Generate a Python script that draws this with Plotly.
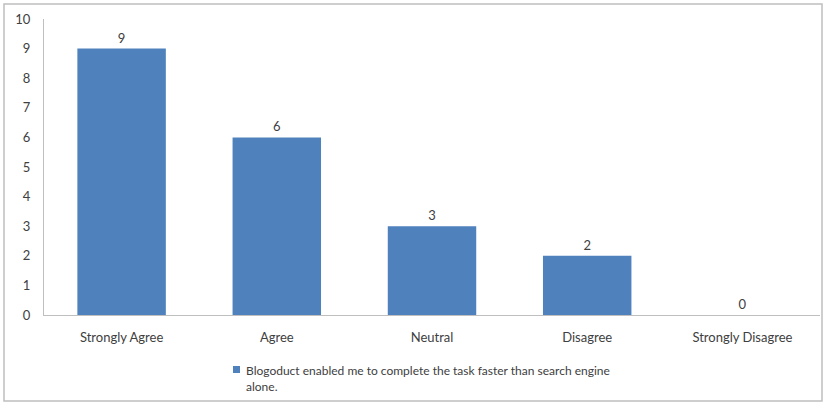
import plotly.graph_objects as go

# Survey responses
categories = ["Strongly Agree", "Agree", "Neutral", "Disagree", "Strongly Disagree"]
counts = [9, 6, 3, 2, 0]
series_name = "Blogoduct enabled me to complete the task faster than search engine<br>alone."
y_ticks = [0, 1, 2, 3, 4, 5, 6, 7, 8, 9, 10]
bar_color = "#4f81bd"

W, H = 827, 404
ml, mr, mt, mb = 44, 7, 19, 89
pw, ph = W - ml - mr, H - mt - mb

def px_to_paper_x(px):
    return (px - ml) / pw

def px_to_paper_y(py):
    return (H - mb - py) / ph

font_family = "Lato, 'Open Sans', sans-serif"
text_color = "#404040"

fig = go.Figure()
fig.add_trace(go.Bar(
    x=categories,
    y=counts,
    name=series_name,
    marker=dict(color=bar_color, line=dict(width=0)),
    width=0.57,
    text=[str(v) for v in counts],
    textposition="outside",
    textfont=dict(size=13, color=text_color, family=font_family),
    cliponaxis=False,
    showlegend=False,
))

# Legend: small colour key followed by the series label
fig.add_shape(
    type="rect", xref="paper", yref="paper",
    x0=px_to_paper_x(233), x1=px_to_paper_x(240),
    y0=px_to_paper_y(373), y1=px_to_paper_y(366),
    fillcolor=bar_color, line=dict(width=0),
)
fig.add_annotation(
    xref="paper", yref="paper",
    x=px_to_paper_x(244), y=px_to_paper_y(361),
    xanchor="left", yanchor="top",
    text=series_name, align="left", showarrow=False,
    font=dict(size=12, color=text_color, family=font_family),
)

fig.update_layout(
    width=W,
    height=H,
    margin=dict(l=ml, r=mr, t=mt, b=mb, autoexpand=False),
    paper_bgcolor="white",
    plot_bgcolor="white",
    font=dict(family=font_family, size=13, color=text_color),
    xaxis=dict(
        showgrid=False,
        showline=True,
        linecolor="#bfbfbf",
        linewidth=1,
        ticks="",
        ticklabelstandoff=10,
        tickfont=dict(size=13, color=text_color),
        fixedrange=True,
    ),
    yaxis=dict(
        range=[0, 10],
        tickvals=y_ticks,
        showgrid=False,
        showline=True,
        linecolor="#bfbfbf",
        linewidth=1,
        ticks="",
        ticklabelstandoff=10,
        tickfont=dict(size=13, color=text_color),
        zeroline=False,
        fixedrange=True,
    ),
    shapes=list(fig.layout.shapes) + [
        dict(
            type="rect",
            xref="paper", yref="paper",
            x0=px_to_paper_x(4), x1=px_to_paper_x(822),
            y0=px_to_paper_y(401), y1=px_to_paper_y(4),
            line=dict(color="#bfbfbf", width=1.5),
            fillcolor="rgba(0,0,0,0)",
            layer="below",
        )
    ],
)

fig.write_html("out.html")
